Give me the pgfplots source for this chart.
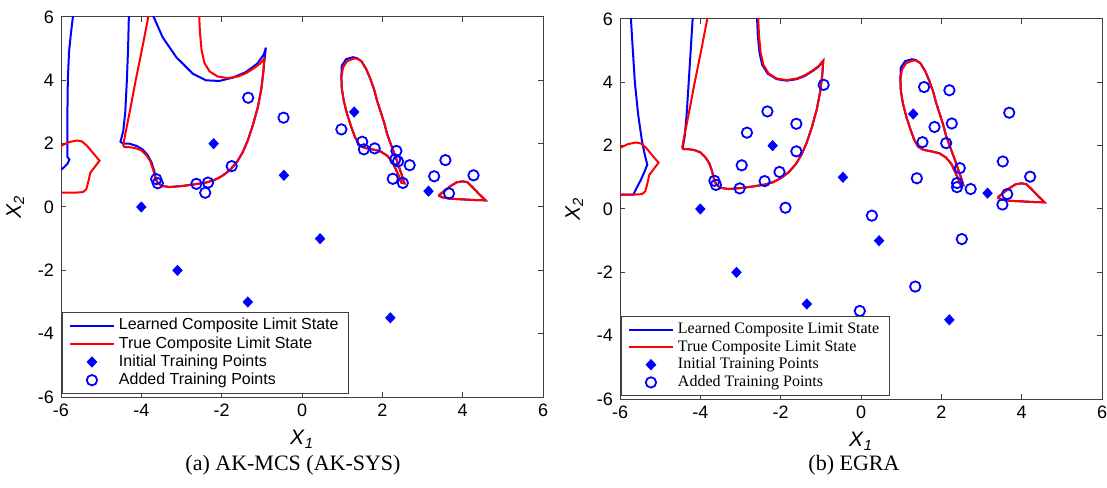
\documentclass[border=0pt]{standalone}
\usepackage{fontspec}
\setmainfont{Liberation Sans}
\newfontfamily\timesfont{Liberation Serif}
\usepackage{pgfplots}
\usepackage{pgfplotstable}
\pgfplotsset{compat=1.18}

% true composite limit state (same in both panels)
\pgfplotstableread{
x y
-6 1.93
-5.8 2.05
-5.6 2.1
-5.48 2.07
-5.35 1.93
-5.2 1.7
-5.04 1.46
-5.15 1.28
-5.27 1.08
-5.32 0.8
-5.37 0.56
-5.45 0.47
-5.7 0.45
-6 0.45
}\trueA
\pgfplotstableread{
x y
-3.82 6.05
-3.98 5
-4.14 4
-4.29 3
-4.40 2.3
-4.45 1.95
-4.42 1.89
-4.3 1.89
-4.15 1.86
-4.0 1.79
-3.88 1.64
-3.78 1.45
-3.71 1.2
-3.66 0.95
-3.61 0.78
-3.5 0.67
-3.3 0.63
-3.0 0.66
-2.7 0.71
-2.4 0.77
-2.2 0.84
-2.0 0.97
-1.8 1.16
-1.62 1.42
-1.48 1.72
-1.35 2.1
-1.22 2.6
-1.1 3.15
-1.01 3.75
-0.96 4.3
-0.94 4.68
-1.05 4.52
-1.2 4.38
-1.4 4.22
-1.6 4.12
-1.85 4.07
-2.1 4.12
-2.3 4.28
-2.43 4.55
-2.5 4.95
-2.54 5.5
-2.56 6.05
}\trueB
\pgfplotstableread{
x y
1.27 4.68
1.12 4.6
1.02 4.4
0.98 4.1
0.99 3.75
1.04 3.35
1.12 2.95
1.22 2.55
1.32 2.2
1.42 1.97
1.55 1.87
1.75 1.82
1.95 1.76
2.12 1.62
2.25 1.42
2.35 1.15
2.43 0.92
2.48 0.76
2.55 0.75
2.5 0.95
2.42 1.25
2.33 1.58
2.22 1.95
2.12 2.3
2.05 2.64
1.96 3.0
1.87 3.35
1.8 3.69
1.7 4.05
1.6 4.35
1.48 4.6
1.37 4.69
1.27 4.68
}\trueC
\pgfplotstableread{
x y
3.4 0.36
3.55 0.52
3.7 0.66
3.85 0.78
4.0 0.81
4.12 0.78
4.25 0.62
4.4 0.42
4.57 0.21
4.3 0.22
4.0 0.24
3.7 0.26
3.5 0.3
3.4 0.36
}\trueD

% learned limit state, middle loop (both panels)
\pgfplotstableread{
x y
1.27 4.73
1.1 4.67
0.99 4.46
0.98 4.1
0.99 3.75
1.04 3.35
1.12 2.95
1.22 2.55
1.32 2.2
1.42 1.97
1.55 1.87
1.75 1.82
1.95 1.76
2.12 1.62
2.25 1.42
2.35 1.15
2.43 0.92
2.48 0.76
2.55 0.75
2.5 0.95
2.42 1.25
2.33 1.58
2.22 1.95
2.12 2.3
2.05 2.64
1.96 3.0
1.87 3.35
1.8 3.69
1.7 4.05
1.6 4.35
1.48 4.6
1.37 4.7
1.27 4.73
}\learnC

% learned limit state, AK-MCS
\pgfplotstableread{
x y
-5.70 6.05
-5.76 5.4
-5.80 4.9
-5.83 4.0
-5.84 3.0
-5.84 2.0
-5.84 1.58
-5.79 1.5
-5.84 1.36
-5.93 1.25
-6.0 1.17
}\learnAa
\pgfplotstableread{
x y
-4.31 6.05
-4.33 5
-4.36 4
-4.40 3
-4.45 2.4
-4.52 2.06
-4.45 2.0
-4.3 2.0
-4.12 1.93
-3.97 1.82
-3.85 1.65
-3.75 1.42
-3.68 1.15
-3.64 0.9
-3.6 0.78
-3.5 0.67
-3.3 0.63
-3.0 0.66
-2.7 0.71
-2.4 0.77
-2.2 0.84
-2.0 0.97
-1.8 1.16
-1.62 1.42
-1.48 1.72
-1.35 2.1
-1.22 2.6
-1.1 3.15
-1.01 3.75
-0.96 4.3
-0.93 4.7
-0.9 5.03
-0.95 4.82
-1.11 4.53
-1.40 4.26
-1.73 4.08
-2.06 3.98
-2.39 4.0
-2.72 4.21
-3.13 4.73
-3.47 5.36
-3.71 6.05
}\learnAb

% learned limit state, EGRA
\pgfplotstableread{
x y
-5.73 6.05
-5.68 5
-5.63 4
-5.55 3
-5.46 2.2
-5.39 1.75
-5.32 1.4
-5.4 1.15
-5.48 0.92
-5.58 0.68
-5.67 0.45
-5.8 0.45
-6 0.45
}\learnBa
\pgfplotstableread{
x y
-4.19 6.05
-4.24 5
-4.29 4
-4.34 3
-4.39 2.3
-4.44 1.92
-4.42 1.89
-4.3 1.89
-4.15 1.86
-4.0 1.79
-3.88 1.64
-3.78 1.45
-3.71 1.2
-3.66 0.95
-3.61 0.78
-3.5 0.67
-3.3 0.63
-3.0 0.66
-2.7 0.71
-2.4 0.77
-2.2 0.84
-2.0 0.97
-1.8 1.16
-1.62 1.42
-1.48 1.72
-1.35 2.1
-1.22 2.6
-1.1 3.15
-1.01 3.75
-0.96 4.3
-0.94 4.68
-1.05 4.5
-1.2 4.36
-1.4 4.2
-1.6 4.1
-1.85 4.05
-2.1 4.1
-2.32 4.27
-2.46 4.55
-2.53 4.95
-2.57 5.5
-2.59 6.05
}\learnBb

\pgfplotstableread{
x y
-4 0
-2.2 2
-0.45 1
1.3 3
3.15 0.5
-3.1 -2
-1.35 -3
0.45 -1
2.2 -3.5
}\initpts

\pgfplotstableread{
x y
-3.63 0.88
-3.59 0.75
-2.63 0.73
-2.34 0.77
-2.41 0.45
-1.75 1.29
-1.34 3.45
-0.46 2.82
0.98 2.45
1.50 2.06
1.54 1.82
1.81 1.85
2.35 1.77
2.32 1.50
2.39 1.44
2.68 1.32
2.26 0.89
2.51 0.76
3.29 0.97
3.57 1.48
3.66 0.43
4.27 1.00
}\addedA

\pgfplotstableread{
x y
-3.65 0.89
-3.61 0.76
-3.02 0.65
-2.97 1.38
-2.84 2.41
-2.33 3.08
-2.4 0.88
-2.03 1.17
-1.61 1.82
-1.61 2.69
-1.88 0.04
-0.93 3.92
1.57 3.85
2.2 3.75
3.69 3.04
1.83 2.59
2.26 2.70
1.53 2.11
2.12 2.08
2.46 1.29
3.53 1.50
4.21 1.02
1.39 0.97
2.39 0.82
2.39 0.69
2.73 0.63
3.64 0.47
3.52 0.14
0.27 -0.21
2.51 -0.95
1.35 -2.45
-0.03 -3.22
}\addedB

\pgfplotsset{
  limfig/.style={
    scale only axis, width=241pt, height=190pt,
    xmin=-6, xmax=6, ymin=-6, ymax=6,
    xtick={-6,-4,...,6}, ytick={-6,-4,...,6},
    tick align=inside, major tick length=2.5pt,
    axis line style={black!75, line width=0.5pt},
    tick style={black!75, line width=0.5pt},
    /pgf/number format/assume math mode=true,
    ticklabel style={font=\fontsize{9}{10}\selectfont},
    xlabel={\textit{X}\textsubscript{\textit{1}}},
    ylabel={\textit{X}\textsubscript{\textit{2}}},
    label style={font=\fontsize{10.5}{12}\selectfont},
    legend cell align=left,
    legend style={at={(axis description cs:0.003,0.008)}, anchor=south west,
      draw=black!75, line width=0.5pt, row sep=-2.2pt, inner xsep=3pt, inner ysep=1pt},
  },
  limline/.style={line width=1pt,
    legend image code/.code={\draw[##1] (0pt,0pt) -- (22pt,0pt);}},
  limmark/.style={only marks,
    legend image code/.code={\draw[mark repeat=2,mark phase=2,##1] plot coordinates {(0pt,0pt) (11pt,0pt) (22pt,0pt)};}},
}

\begin{document}
\begin{tikzpicture}
\useasboundingbox (0,0) rectangle (553.5pt,243.5pt);

\begin{axis}[limfig, at={(30.5pt,45pt)}, anchor=south west,
  legend style={font=\fontsize{8}{9.5}\selectfont}]
\addplot[limline, blue] table {\learnAa};
\addplot[limline, blue, forget plot] table {\learnAb};
\addplot[limline, blue, forget plot] table {\learnC};
\addplot[limline, blue, forget plot] table {\trueD};
\addplot[limline, red] table {\trueA};
\addplot[limline, red, forget plot] table {\trueB};
\addplot[limline, red, forget plot] table {\trueC};
\addplot[limline, red, forget plot] table {\trueD};
\addplot[limmark, mark=diamond*, mark size=2.5pt, mark options={xscale=1.25}, blue, fill=blue] table {\initpts};
\addplot[limmark, mark=o, mark size=2.6pt, blue, line width=0.9pt] table {\addedA};
\legend{Learned Composite Limit State, True Composite Limit State, Initial Training Points, Added Training Points}
\end{axis}

\begin{axis}[limfig, at={(310pt,44pt)}, anchor=south west,
  legend style={font=\timesfont\fontsize{8}{9.5}\selectfont}]
\addplot[limline, blue] table {\learnBa};
\addplot[limline, blue, forget plot] table {\learnBb};
\addplot[limline, blue, forget plot] table {\learnC};
\addplot[limline, blue, forget plot] table {\trueD};
\addplot[limline, red] table {\trueA};
\addplot[limline, red, forget plot] table {\trueB};
\addplot[limline, red, forget plot] table {\trueC};
\addplot[limline, red, forget plot] table {\trueD};
\addplot[limmark, mark=diamond*, mark size=2.5pt, mark options={xscale=1.25}, blue, fill=blue] table {\initpts};
\addplot[limmark, mark=o, mark size=2.6pt, blue, line width=0.9pt] table {\addedB};
\legend{Learned Composite Limit State, True Composite Limit State, Initial Training Points, Added Training Points}
\end{axis}

\node[font=\timesfont\fontsize{11}{13}\selectfont] at (146.5pt,11pt) {(a) AK-MCS (AK-SYS)};
\node[font=\timesfont\fontsize{11}{13}\selectfont] at (427pt,11pt) {(b) EGRA};
\end{tikzpicture}
\end{document}
